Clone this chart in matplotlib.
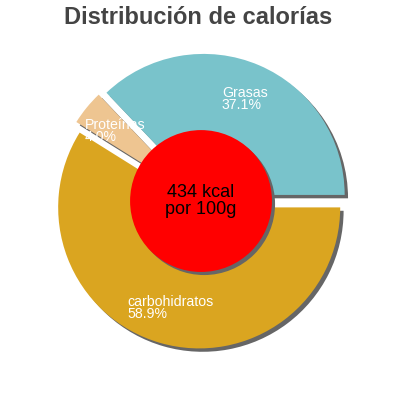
import numpy as np
import matplotlib
matplotlib.use("Agg")
import matplotlib.pyplot as plt
from matplotlib.patches import Wedge, Circle

labels = ["Grasas", "Proteínas", "carbohidratos"]
values = [37.1, 4.0, 58.9]
colors = ["#79C3CB", "#EEC591", "#DAA520"]
title = "Distribución de calorías"
center_text = "434 kcal\npor 100g"

plt.rcParams['font.family'] = ['Liberation Sans', 'DejaVu Sans']

fig = plt.figure(figsize=(4, 4), dpi=100)
ax = fig.add_axes([0, 0, 1, 1])

explode = [0.047] * len(values)
wedges, _ = ax.pie(values, colors=colors, startangle=0, counterclock=True,
                   explode=explode, radius=1.0, wedgeprops=dict(linewidth=0),
                   normalize=True)
ax.set_xlim(-1.4255, 1.411)
ax.set_ylim(-1.411, 1.4255)
ax.set_aspect('equal')
ax.axis('off')

for w in wedges:
    w.set_zorder(3)
    cx, cy = w.center
    sh = Wedge((cx + 0.024, cy - 0.024), w.r, w.theta1, w.theta2,
               facecolor="#666666", edgecolor='none', zorder=2)
    ax.add_patch(sh)

total = sum(values)
ang = 0.0
for lab, v, w in zip(labels, values, wedges):
    a1 = ang + v / total * 360
    mid = np.deg2rad((ang + a1) / 2)
    cx, cy = w.center
    r = 0.74
    ax.text(cx + r * np.cos(mid), cy + r * np.sin(mid), f"{lab}\n{v:.1f}%",
            ha='center', va='center', multialignment='left', color='white',
            fontsize=10.2, linespacing=0.8, zorder=6)
    ang = a1

ax.add_patch(Circle((0.022, -0.022), 0.503, facecolor="#666666", edgecolor='none', zorder=4))
ax.add_patch(Circle((0, 0), 0.503, facecolor="#FF0000", edgecolor='none', zorder=5))
ax.text(0, 0.0, center_text, ha='center', va='center', fontsize=13, color='black',
        linespacing=0.95, zorder=7)

fig.text(0.495, 0.955, title, ha='center', va='center', fontsize=17,
         fontweight='bold', color='#444444')

fig.savefig("out.png", dpi=100)
